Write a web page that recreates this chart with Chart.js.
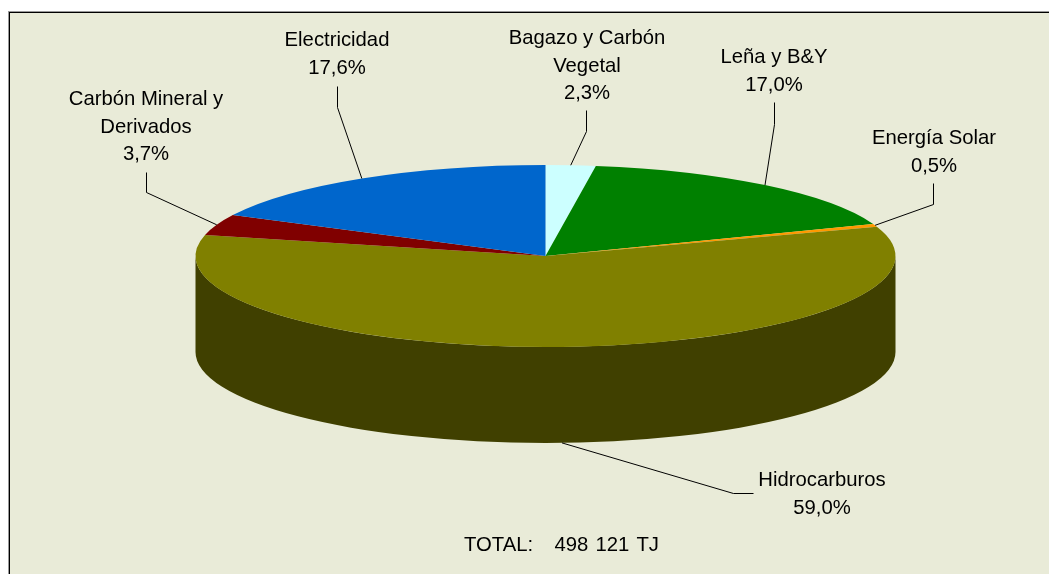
<!DOCTYPE html>
<html>
<head>
<meta charset="utf-8">
<title>Consumo de energía</title>
<script src="https://cdn.jsdelivr.net/npm/chart.js@4"></script>
<style>
  html, body { margin: 0; padding: 0; background: #fff; }
  canvas { display: block; }
</style>
</head>
<body>
<canvas id="chart" width="1049" height="574"></canvas>
<script>
const categories = ['Bagazo y Carbón Vegetal', 'Leña y B&Y', 'Energía Solar', 'Hidrocarburos', 'Carbón Mineral y Derivados', 'Electricidad'];
const values = [2.3, 17.0, 0.5, 59.0, 3.7, 17.6];
const colors = ['#CCFFFF', '#008000', '#FF9900', '#808000', '#800000', '#0066CC'];
const sideColors = ['#668080', '#004000', '#804D00', '#404000', '#400000', '#003366'];
const totalText = 'TOTAL:   498 121 TJ';

// label wrapping and where each label sits (text centre x, first baseline y)
const labelLines = [['Bagazo y Carbón', 'Vegetal'], ['Leña y B&Y'], ['Energía Solar'], ['Hidrocarburos'], ['Carbón Mineral y', 'Derivados'], ['Electricidad']];
const labelPos = [[587, 44], [774, 63], [934, 144], [822, 486], [146, 105], [337, 46]];
// leader line: from the slice, to the elbow, to the end by the label
const leaderElbow = [[586, 131], [774, 124], [933, 204], [733, 493], [146, 192], [337, 107]];
const leaderEnd = [[586, 110], [774, 102], [933, 183], [753, 493], [146, 172], [337, 86]];
const leaderColors = ['#000', '#000', '#000', '#000', '#000', '#000'];

const pieCx = 545.5;
const pieCy = 256;
const pieRx = 350;
const pieRy = 91;
const pieDepth = 96;
const lineHeight = 27.5;

const backgroundPlugin = {
  id: 'frame',
  beforeDraw(chart) {
    const ctx = chart.ctx;
    ctx.save();
    ctx.fillStyle = '#E9EBD8';
    ctx.fillRect(9, 12, chart.width - 9, chart.height - 12);
    ctx.fillStyle = '#999';
    ctx.fillRect(8, 11, chart.width - 8, 1);
    ctx.fillRect(8, 11, 1, chart.height - 11);
    ctx.fillStyle = '#000';
    ctx.fillRect(9, 12, chart.width - 9, 1);
    ctx.fillRect(9, 12, 1, chart.height - 12);
    ctx.restore();
  }
};

// squashes the flat pie into an ellipse and puts the wall under it
const tiltPlugin = {
  id: 'tilt',
  beforeDatasetsDraw(chart) {
    const ctx = chart.ctx;
    const arcs = chart.getDatasetMeta(0).data;
    arcs.forEach((arc, i) => {
      const a0 = Math.max(arc.startAngle, 0);
      const a1 = Math.min(arc.endAngle, Math.PI);
      if (a1 <= a0) return;
      ctx.beginPath();
      ctx.ellipse(pieCx, pieCy, pieRx, pieRy, 0, a0, a1);
      ctx.ellipse(pieCx, pieCy + pieDepth, pieRx, pieRy, 0, a1, a0, true);
      ctx.closePath();
      ctx.fillStyle = sideColors[i];
      ctx.fill();
    });
    const first = arcs[0];
    ctx.save();
    ctx.translate(pieCx, pieCy);
    ctx.scale(pieRx / first.outerRadius, pieRy / first.outerRadius);
    ctx.translate(-first.x, -first.y);
  },
  afterDatasetsDraw(chart) {
    chart.ctx.restore();
  }
};

const labelPlugin = {
  id: 'sliceLabels',
  afterDraw(chart) {
    const ctx = chart.ctx;
    const arcs = chart.getDatasetMeta(0).data;
    ctx.save();
    ctx.font = '20.3px "Liberation Sans", Arial, sans-serif';
    ctx.fillStyle = '#000';
    ctx.textAlign = 'center';
    categories.forEach((name, i) => {
      const mid = (arcs[i].startAngle + arcs[i].endAngle) / 2;
      const front = Math.sin(mid) > 0 ? pieDepth : 0;
      const fromX = pieCx + pieRx * Math.cos(mid);
      const fromY = pieCy + pieRy * Math.sin(mid) + front;

      ctx.lineWidth = 1;
      ctx.strokeStyle = leaderColors[i];
      ctx.beginPath();
      ctx.moveTo(fromX, fromY);
      ctx.lineTo(leaderElbow[i][0] + 0.5, leaderElbow[i][1] + 0.5);
      ctx.lineTo(leaderEnd[i][0] + 0.5, leaderEnd[i][1] + 0.5);
      ctx.stroke();

      const lines = labelLines[i].concat(values[i].toFixed(1).replace('.', ',') + '%');
      lines.forEach((text, n) => {
        ctx.fillText(text, labelPos[i][0], labelPos[i][1] + n * lineHeight);
      });
    });
    ctx.textAlign = 'left';
    ctx.wordSpacing = '1.5px';
    ctx.fillText(totalText, 464, 551);
    ctx.restore();
  }
};

new Chart(document.getElementById('chart').getContext('2d'), {
  type: 'pie',
  data: {
    labels: categories,
    datasets: [
      {
        data: values,
        backgroundColor: colors,
        borderWidth: 0,
        clip: false,
      }
    ],
  },
  options: {
    responsive: false,
    animation: false,
    events: [],
    plugins: {
      legend: { display: false },
      tooltip: { enabled: false },
    },
  },
  plugins: [backgroundPlugin, tiltPlugin, labelPlugin],
});
</script>
</body>
</html>
